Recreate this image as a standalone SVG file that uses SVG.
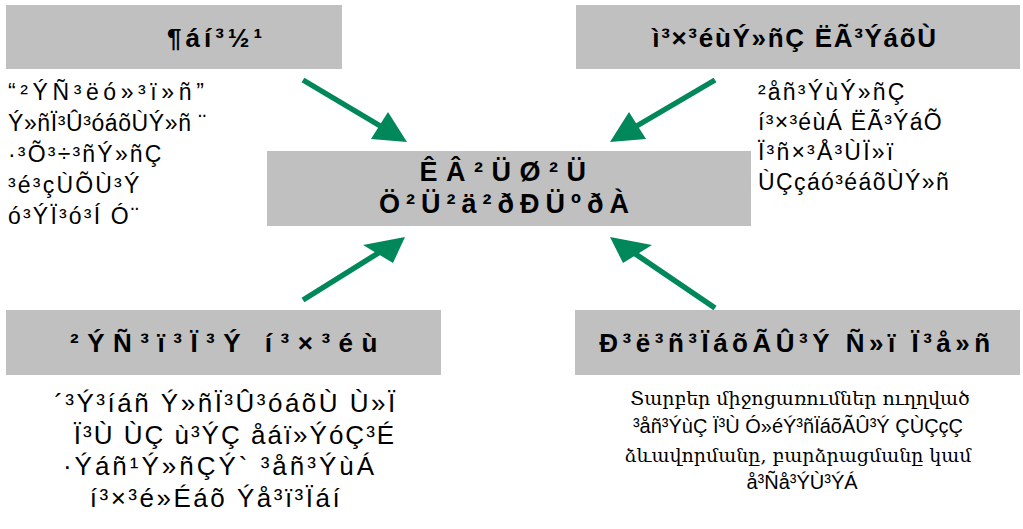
<svg xmlns="http://www.w3.org/2000/svg" width="1023" height="529" viewBox="0 0 1023 529">
<defs>
<style>
.box{fill:#C0C0C0}
.ln{stroke:#00875A;stroke-width:5.5;fill:none}
.hd{fill:#00875A}
</style>
</defs>
<rect width="1023" height="529" fill="#fff"/>
<g id="connectors">
<line class="ln" x1="303" y1="80" x2="382" y2="127"/>
<polygon class="hd" points="407,142 371,139 388,112"/>
<line class="ln" x1="715" y1="80" x2="635" y2="127"/>
<polygon class="hd" points="610,142 629,112 646,139"/>
<line class="ln" x1="303" y1="300" x2="380" y2="252"/>
<polygon class="hd" points="405,237 393,263 363,245"/>
<line class="ln" x1="715" y1="308" x2="634" y2="253"/>
<polygon class="hd" points="610,237 652,245 623,263"/>
</g>
<g id="center" font-family="Liberation Sans, Arial, sans-serif" font-weight="bold" font-size="27">
<rect class="box" x="267" y="151" width="484" height="75"/>
<text x="507" y="181" text-anchor="middle" letter-spacing="8.5">ÊÂ²ÜØ²Ü</text>
<text x="507" y="213" text-anchor="middle" letter-spacing="6">Ö²Ü²ä²ðÐÜºðÀ</text>
</g>
<g id="advertising" font-family="Liberation Sans, Arial, sans-serif">
<rect class="box" x="6" y="5" width="336" height="64"/>
<text x="167" y="47" font-weight="bold" font-size="26" letter-spacing="4">¶áí³½¹</text>
<g font-size="23">
<text x="8" y="100" letter-spacing="4.6">“²ÝÑ³ëó»³ï»ñ”</text>
<text x="8" y="131" letter-spacing="0.6">Ý»ñÏ³Û³óáõÙÝ»ñ ¨</text>
<text x="8" y="162" letter-spacing="2.2">·³Õ³÷³ñÝ»ñÇ</text>
<text x="8" y="193" letter-spacing="2.2">³é³çÙÕÙ³Ý</text>
<text x="8" y="224" letter-spacing="2.2">ó³ÝÏ³ó³Í Ó¨</text>
</g>
</g>
<g id="sales-promotion" font-family="Liberation Sans, Arial, sans-serif">
<rect class="box" x="576" y="5" width="444" height="64"/>
<text x="795" y="47" text-anchor="middle" font-weight="bold" font-size="26" letter-spacing="1.7">ì³×³éùÝ»ñÇ ËÃ³ÝáõÙ</text>
<g font-size="23">
<text x="758" y="100" letter-spacing="2.2">²åñ³ÝùÝ»ñÇ</text>
<text x="758" y="130" letter-spacing="1.3">í³×³éùÁ ËÃ³ÝáÕ</text>
<text x="758" y="160" letter-spacing="2.2">Ï³ñ×³Å³ÙÏ»ï</text>
<text x="758" y="190" letter-spacing="1.4">ÙÇçáó³éáõÙÝ»ñ</text>
</g>
</g>
<g id="personal-selling" font-family="Liberation Sans, Arial, sans-serif">
<rect class="box" x="6" y="310" width="435" height="65"/>
<text x="228" y="352" text-anchor="middle" font-weight="bold" font-size="26" letter-spacing="8.5">²ÝÑ³ï³Ï³Ý í³×³éù</text>
<g font-size="26" text-anchor="middle">
<text x="226" y="412" letter-spacing="2.5">´³Ý³íáñ Ý»ñÏ³Û³óáõÙ Ù»Ï</text>
<text x="235" y="444" letter-spacing="2">Ï³Ù ÙÇ ù³ÝÇ åáï»ÝóÇ³É</text>
<text x="220" y="475" letter-spacing="3">·Ýáñ¹Ý»ñÇÝ` ³åñ³ÝùÁ</text>
<text x="216" y="507" letter-spacing="2.5">í³×³é»Éáõ Ýå³ï³Ïáí</text>
</g>
</g>
<g id="public-relations" font-family="Liberation Sans, Arial, sans-serif" text-anchor="middle">
<rect class="box" x="575" y="310" width="445" height="65"/>
<text x="797" y="352" font-weight="bold" font-size="26" letter-spacing="4.5">Ð³ë³ñ³ÏáõÃÛ³Ý Ñ»ï Ï³å»ñ</text>
<text x="800" y="405" font-family="DejaVu Serif, serif" font-size="19">Տարբեր միջոցառումներ ուղղված</text>
<text x="798" y="433" font-size="20">³åñ³ÝùÇ Ï³Ù Ó»éÝ³ñÏáõÃÛ³Ý ÇÙÇçÇ</text>
<text x="798" y="462" font-family="DejaVu Serif, serif" font-size="19">ձևավորմանը, բարձրացմանը կամ</text>
<text x="802" y="489" font-size="20">å³Ñå³ÝÙ³ÝÁ</text>
</g>
</svg>
